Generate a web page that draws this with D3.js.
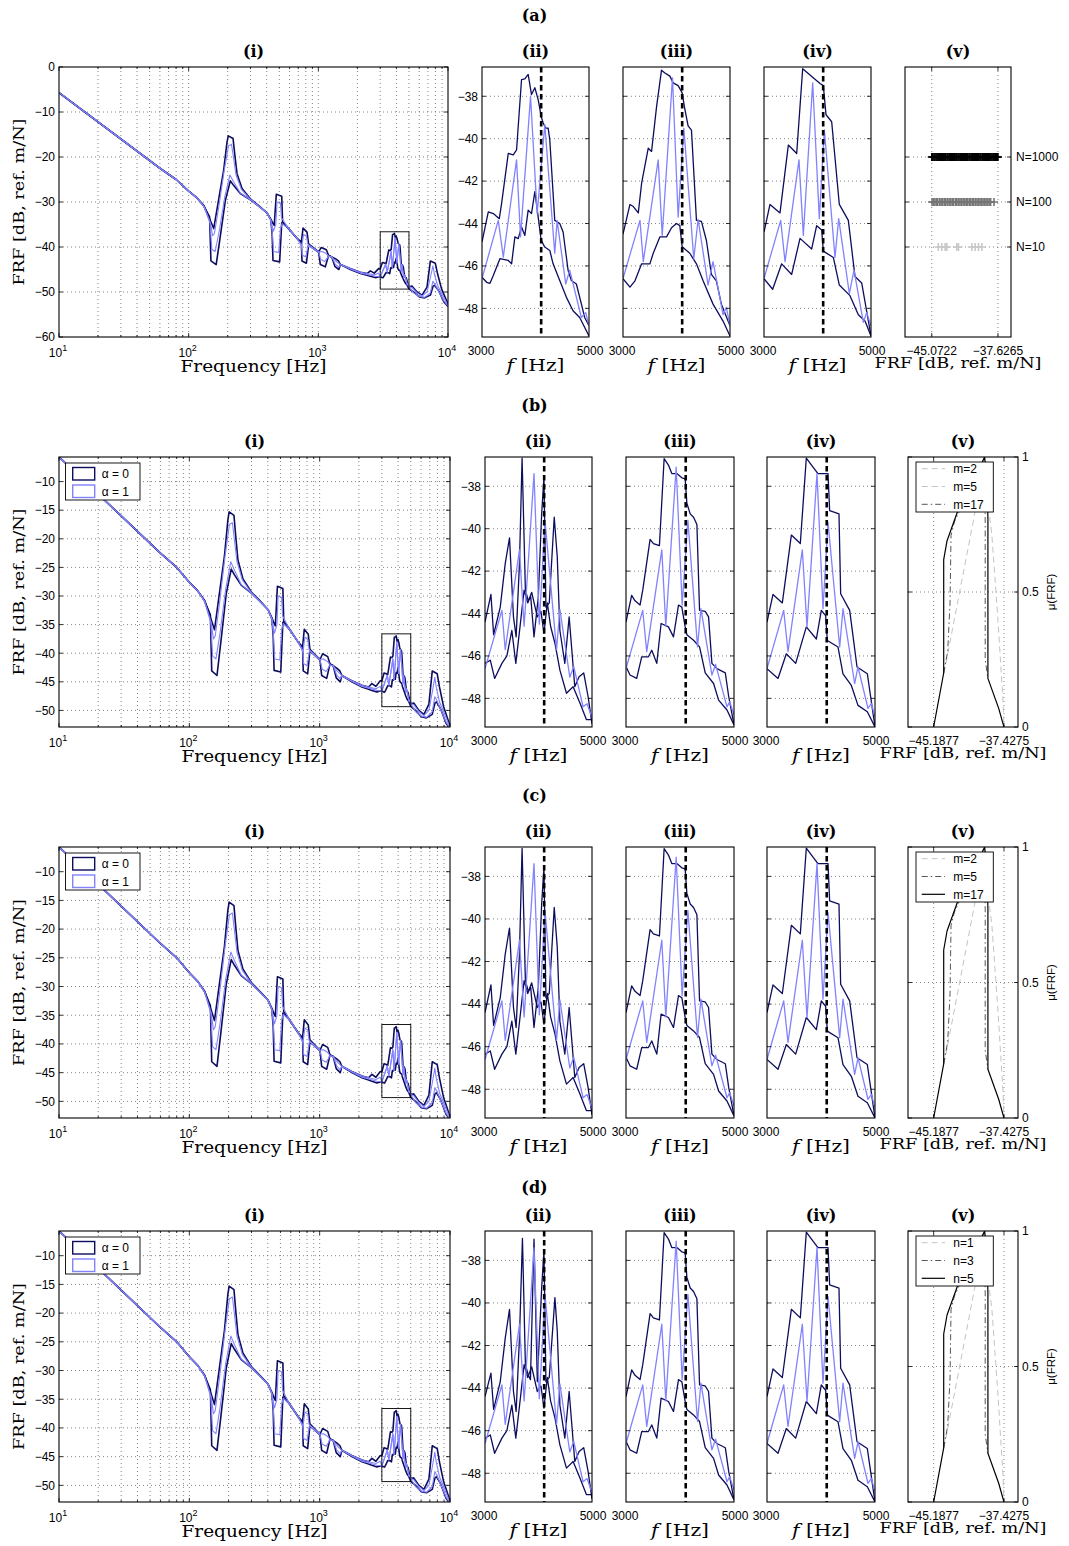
<!DOCTYPE html>
<html>
<head>
<meta charset="utf-8">
<script src="https://cdn.jsdelivr.net/npm/d3@7"></script>
<style>
  body { margin: 0; background: #fff; }
  svg { display: block; }
</style>
</head>
<body>
<script>
// ---------------------------------------------------------------
// Data
// ---------------------------------------------------------------
const freqTicks = [10, 100, 1000, 10000];
const frfTicksA = [0, -10, -20, -30, -40, -50, -60];
const frfTicksB = [-10, -15, -20, -25, -30, -35, -40, -45, -50];
const zoomYTicks = [-38, -40, -42, -44, -46, -48];
const zoomXTicks = [3000, 5000];
const zoomCursor = 4106;               // frequency marked by the dashed line
const boundsA = [-45.0722, -37.6265];  // interval bounds, row (a)
const boundsB = [-45.1877, -37.4275];  // interval bounds, rows (b)-(d)
const sampleLabels = ["N=10", "N=100", "N=1000"];
const muTicks = [0, 0.5, 1];
const alphaLabels = ["\u03b1 = 0", "\u03b1 = 1"];
const mLabels = ["m=2", "m=5", "m=17"];
const nLabels = ["n=1", "n=3", "n=5"];

// Full-band FRF envelopes [Hz, dB] below 3 kHz and above 5 kHz
const headU = [[10,-5.7],[30,-16.0],[60,-22.5],[80,-25.0],[100,-27.6],[116,-29.1],[131,-30.8],[147,-34.1],[156,-35.9],[170,-29.6],[186,-23.0],[197.6,-16.7],[202,-15.3],[220,-15.9],[226.5,-19.3],[236,-23.7],[258,-27.0],[299,-29.3],[350,-30.9],[402,-32.4],[430,-33.8],[447,-34.8],[457,-35.2],[474,-28.3],[522,-28.7],[530,-34.4],[580,-35.6],[686,-38.1],[740,-38.9],[762,-35.8],[818,-36.7],[841,-39.3],[1006,-41.1],[1054,-40.1],[1153,-40.6],[1200,-41.9],[1270,-42.2],[1352,-42.6],[1430,-43.1],[1480,-43.9],[1766,-44.8],[2109,-45.6],[2374,-45.9],[2518,-45.3],[2700,-45.8],[2917,-44.8]];
const headL = [[10,-5.7],[30,-16.0],[60,-22.5],[80,-25.0],[100,-27.6],[116,-29.1],[131,-30.9],[145,-33.3],[148.5,-43.1],[163,-43.9],[175,-37.8],[192,-29.6],[209.6,-25.3],[222,-26.3],[250,-28.1],[299,-29.5],[350,-31.0],[402,-32.4],[430,-34.0],[440,-37.0],[447,-43.0],[503,-43.3],[522,-34.6],[580,-35.7],[686,-38.1],[740,-39.3],[748,-43.1],[809,-43.6],[841,-39.6],[1006,-41.2],[1036,-43.9],[1132,-44.4],[1200,-41.9],[1270,-42.2],[1340,-44.3],[1440,-45.0],[1480,-43.9],[1766,-45.0],[2109,-45.9],[2374,-46.3],[2518,-46.5],[2750,-46.8]];
const tailU = [[5270,-48.7],[5770,-50.0],[6310,-50.7],[6890,-48.9],[7310,-43.1],[7980,-43.6],[8300,-45.9],[8920,-49.3],[10000,-52.7]];
const tailL = [[5430,-50.0],[6020,-51.1],[6600,-51.3],[7310,-50.7],[7670,-48.7],[7900,-48.5],[8500,-49.8],[9300,-52.2],[10000,-53.2]];
const head1U = [[10,-5.7],[30,-16.0],[60,-22.5],[80,-25.0],[100,-27.6],[116,-29.1],[131,-30.9],[147,-34.6],[153,-37.5],[158,-37.0],[172,-30.5],[188,-23.0],[203,-17.5],[214,-17.2],[220,-19.5],[232,-24.0],[255,-27.2],[299,-29.4],[402,-32.4],[430,-34.0],[450,-36.5],[470,-35.0],[480,-30.0],[510,-30.2],[520,-33.5],[580,-35.6],[686,-38.1],[745,-39.8],[770,-37.2],[810,-37.6],[830,-39.4],[1006,-41.1],[1070,-41.0],[1140,-41.4],[1200,-42.0],[1270,-42.2],[1360,-43.1],[1480,-43.9],[1766,-44.8],[2109,-45.6],[2374,-45.9],[2700,-46.2],[2917,-45.8]];
const head1L = [[10,-5.7],[30,-16.0],[60,-22.5],[80,-25.0],[100,-27.6],[116,-29.1],[131,-31.0],[146,-34.6],[151,-40.5],[160,-41.0],[172,-36.5],[190,-28.8],[208,-24.0],[222,-25.5],[250,-28.0],[299,-29.5],[402,-32.4],[430,-34.0],[442,-37.0],[452,-41.0],[495,-41.2],[510,-36.0],[525,-34.8],[580,-35.7],[686,-38.1],[740,-39.5],[752,-41.8],[800,-42.2],[835,-39.6],[1006,-41.2],[1045,-42.8],[1120,-43.2],[1200,-42.1],[1270,-42.2],[1350,-43.8],[1440,-44.5],[1480,-43.9],[1766,-44.9],[2109,-45.8],[2374,-46.1],[2750,-46.5]];
const tail1U = [[5270,-49.0],[5770,-50.2],[6310,-50.9],[6890,-50.0],[7350,-46.5],[7650,-44.2],[7850,-46.0],[8300,-48.5],[8920,-50.2],[10000,-53.0]];
const tail1L = [[5430,-50.2],[6020,-51.0],[6600,-51.2],[7310,-50.2],[7650,-47.6],[7900,-48.2],[8500,-49.9],[9300,-52.0],[10000,-53.1]];

// 3-5 kHz detail, row (a): upper/lower bounds (alpha = 0) and alpha = 1 curve
const a2U = [[3000,-44.87],[3118,-43.45],[3211,-43.53],[3323,-43.77],[3366,-43.06],[3491,-40.69],[3584,-40.76],[3646,-40.53],[3739,-37.21],[3801,-37.18],[3863,-36.97],[3925,-37.92],[3988,-37.6],[4050,-38.16],[4106,-38.95],[4143,-39.26],[4193,-39.5],[4236,-39.5],[4267,-40.05],[4360,-43.85],[4453,-44.0],[4516,-44.4],[4609,-46.2],[4671,-46.69],[4764,-46.85],[4857,-47.79],[4919,-48.43],[5000,-48.82]];
const a2L = [[3000,-46.53],[3087,-46.77],[3149,-46.82],[3211,-46.45],[3335,-45.66],[3491,-45.74],[3553,-45.9],[3615,-44.63],[3677,-44.71],[3739,-44.16],[3801,-44.56],[3863,-43.37],[3925,-43.53],[3988,-42.5],[4050,-43.69],[4106,-44.79],[4174,-45.11],[4267,-45.27],[4329,-45.9],[4453,-46.69],[4578,-47.48],[4702,-48.11],[4826,-48.43],[5000,-49.3]];
const a2M = [[3000,-46.6],[3304,-43.85],[3398,-45.58],[3646,-41.0],[3720,-44.63],[3907,-38.0],[4031,-43.53],[4174,-39.34],[4360,-45.4],[4404,-43.85],[4565,-46.85],[4640,-46.2],[4857,-48.43],[4938,-48.2],[5000,-48.82]];
const a3U = [[3000,-44.5],[3130,-43.1],[3193,-43.2],[3286,-43.5],[3348,-42.1],[3472,-40.45],[3534,-40.6],[3627,-38.5],[3720,-36.77],[3783,-36.9],[3876,-37.05],[3938,-37.37],[4031,-37.5],[4106,-37.84],[4155,-38.6],[4217,-39.4],[4280,-39.6],[4373,-43.85],[4466,-43.9],[4559,-44.8],[4652,-46.4],[4745,-46.7],[4839,-47.8],[4932,-48.4],[5000,-48.82]];
const a3L = [[3000,-46.6],[3130,-47.0],[3224,-46.7],[3348,-45.9],[3503,-45.9],[3565,-45.4],[3689,-44.63],[3814,-44.63],[3907,-44.2],[4000,-44.0],[4062,-44.1],[4106,-45.1],[4248,-45.4],[4373,-45.9],[4497,-46.7],[4683,-47.8],[4870,-48.6],[5000,-49.3]];
const a3M = [[3000,-46.6],[3317,-43.85],[3379,-45.8],[3658,-41.0],[3733,-44.56],[3925,-37.13],[4031,-43.7],[4137,-39.5],[4323,-45.66],[4404,-43.8],[4590,-46.9],[4683,-45.8],[4870,-48.3],[4932,-47.95],[5000,-48.82]];
const a4U = [[3000,-44.4],[3112,-43.1],[3299,-43.5],[3455,-40.3],[3611,-40.7],[3723,-36.7],[4047,-37.4],[4109,-37.5],[4159,-38.87],[4265,-39.2],[4408,-43.1],[4576,-43.85],[4701,-46.5],[4826,-46.8],[5000,-49.3]];
const a4L = [[3000,-46.6],[3162,-47.1],[3330,-45.9],[3517,-46.4],[3673,-44.7],[3891,-45.2],[3984,-44.1],[4078,-44.3],[4109,-45.3],[4296,-45.6],[4408,-46.9],[4607,-47.4],[4763,-48.3],[4888,-48.6],[5000,-49.3]];
const a4M = [[3000,-46.6],[3312,-43.85],[3393,-45.8],[3654,-41.0],[3735,-44.56],[3910,-37.37],[4034,-43.77],[4128,-39.58],[4327,-45.6],[4396,-43.77],[4595,-47.3],[4682,-46.2],[4857,-48.66],[4919,-48.2],[5000,-48.82]];

// 3-5 kHz detail, rows (b)-(d)
const b2U = [[3000,-44.4],[3111,-43.1],[3161,-45.0],[3285,-43.7],[3378,-41.65],[3458,-40.43],[3532,-44.16],[3582,-45.1],[3644,-41.65],[3693,-36.68],[3755,-42.9],[3811,-43.4],[3854,-43.2],[3916,-45.1],[3997,-43.2],[4059,-39.3],[4102,-37.58],[4139,-43.7],[4201,-43.5],[4294,-39.46],[4350,-41.3],[4400,-44.8],[4492,-46.35],[4573,-44.16],[4678,-47.45],[4759,-46.98],[4845,-46.8],[4926,-47.9],[5000,-49.2]];
const d2U = [[3000,-44.4],[3111,-43.3],[3161,-45.0],[3285,-43.7],[3378,-41.65],[3458,-40.3],[3532,-44.16],[3582,-45.1],[3644,-41.65],[3700,-36.97],[3755,-42.9],[3811,-43.4],[3850,-43.6],[3916,-37.0],[3978,-43.7],[4059,-39.3],[4102,-37.56],[4139,-43.7],[4201,-43.5],[4307,-39.75],[4350,-41.3],[4400,-44.8],[4492,-46.35],[4573,-44.16],[4678,-47.45],[4759,-46.98],[4845,-46.8],[4926,-47.9],[5000,-49.2]];
const b2L = [[3000,-46.35],[3099,-46.2],[3180,-47.06],[3316,-46.35],[3409,-46.0],[3502,-44.8],[3576,-46.35],[3669,-44.3],[3731,-42.9],[3799,-43.5],[3873,-43.0],[3978,-44.16],[4046,-43.9],[4102,-44.94],[4164,-43.5],[4226,-44.6],[4307,-45.4],[4400,-46.67],[4523,-47.76],[4647,-47.45],[4771,-48.2],[4895,-49.0],[5000,-49.0]];
const b2M = [[3000,-46.6],[3316,-43.85],[3378,-45.7],[3644,-41.0],[3731,-44.6],[3916,-37.4],[4015,-44.5],[4121,-39.6],[4337,-45.7],[4400,-43.8],[4585,-47.0],[4659,-46.5],[4833,-48.4],[4907,-48.25],[5000,-48.9]];
const b3U = [[3000,-44.4],[3105,-43.14],[3167,-43.4],[3260,-43.6],[3310,-42.9],[3446,-40.5],[3508,-40.7],[3619,-40.8],[3706,-36.7],[3786,-37.0],[3848,-37.4],[3941,-37.4],[4034,-37.6],[4096,-37.65],[4127,-38.8],[4189,-39.3],[4251,-39.46],[4313,-39.8],[4362,-43.85],[4467,-43.9],[4529,-44.16],[4591,-46.35],[4684,-46.6],[4839,-46.8],[4901,-47.9],[5000,-49.25]];
const b3L = [[3000,-46.5],[3074,-46.9],[3198,-47.06],[3291,-46.04],[3415,-46.04],[3477,-45.73],[3570,-46.35],[3650,-44.47],[3786,-44.63],[3879,-45.1],[3972,-43.6],[4034,-43.7],[4096,-44.63],[4127,-45.0],[4251,-45.26],[4362,-45.57],[4467,-46.8],[4622,-47.3],[4715,-48.08],[4870,-48.55],[5000,-49.25]];
const b3M = [[3000,-46.6],[3310,-43.85],[3384,-45.8],[3663,-41.0],[3737,-44.6],[3929,-37.1],[4040,-43.6],[4146,-39.6],[4325,-45.57],[4387,-43.77],[4591,-46.9],[4659,-46.4],[4870,-48.4],[4920,-48.16],[5000,-48.78]];
const b4U = [[3000,-44.4],[3111,-43.1],[3284,-43.5],[3451,-40.3],[3617,-40.7],[3728,-36.67],[3852,-37.1],[3944,-37.4],[4130,-37.4],[4160,-39.15],[4333,-39.3],[4364,-43.07],[4531,-43.85],[4667,-46.52],[4858,-46.84],[5000,-49.35]];
const b4L = [[3000,-46.6],[3204,-47.06],[3358,-45.9],[3531,-46.35],[3728,-44.63],[3914,-45.2],[4006,-43.85],[4086,-44.1],[4117,-45.27],[4315,-45.58],[4407,-46.84],[4562,-47.39],[4685,-48.33],[4858,-48.63],[5000,-49.35]];
const b4M = [[3000,-46.6],[3309,-43.85],[3389,-45.8],[3654,-41.0],[3741,-44.63],[3926,-37.4],[4037,-43.77],[4130,-39.7],[4346,-45.58],[4407,-43.77],[4623,-47.3],[4685,-46.52],[4870,-48.47],[4932,-48.24],[5000,-48.87]];

// Monte Carlo samples of the FRF at the marked frequency, row (a) (v)
const samples10 = [-44.33,-43.94,-43.57,-43.38,-42.25,-42.07,-40.56,-40.19,-39.81,-39.43];
const samples100 = [-45.04,-44.86,-44.71,-44.52,-44.40,-44.18,-44.02,-43.85,-43.66,-43.49,-43.30,-43.12,-42.95,-42.77,-42.63,-42.41,-42.26,-42.08,-41.90,-41.74,-41.55,-41.38,-41.20,-41.05,-40.86,-40.70,-40.51,-40.35,-40.16,-39.98,-39.82,-39.64,-39.47,-39.30,-39.13,-38.97,-38.80,-38.62,-38.45,-38.07];
const samples1000 = [-45.07,-44.96,-44.82,-44.71,-44.58,-44.47,-44.33,-44.22,-44.09,-43.98,-43.84,-43.73,-43.60,-43.49,-43.35,-43.24,-43.10,-42.99,-42.86,-42.74,-42.61,-42.50,-42.36,-42.25,-42.12,-42.00,-41.87,-41.76,-41.62,-41.51,-41.38,-41.26,-41.13,-41.02,-40.88,-40.77,-40.64,-40.52,-40.39,-40.28,-40.14,-40.03,-39.90,-39.78,-39.65,-39.54,-39.40,-39.29,-39.16,-39.04,-38.91,-38.80,-38.66,-38.55,-38.42,-38.30,-38.17,-38.06,-37.92,-37.81,-37.70,-37.63];

// Membership functions of the FRF at the marked frequency [dB, mu]
const memSolid = [[-45.19,0],[-44.08,0.2],[-44.08,0.62],[-43.71,0.69],[-42.53,0.8],[-41.05,0.89],[-39.57,1],[-39.28,0.91],[-39.2,0.77],[-39.2,0.18],[-38.02,0.07],[-37.43,0]];
const memDashDot = [[-44.08,0.2],[-43.64,0.28],[-43.38,0.46],[-43.27,0.71],[-42.9,0.76],[-41.05,0.89],[-39.57,1],[-39.5,0.77],[-39.5,0.25],[-39.2,0.18]];
const memDashed = [[-44.08,0.2],[-43.93,0.22],[-40.6,0.8],[-39.9,0.93],[-39.57,1],[-39.2,0.83],[-38.76,0.71],[-38.1,0.4],[-37.54,0.1],[-37.43,0]];

// ---------------------------------------------------------------
// Styles and layout
// ---------------------------------------------------------------
const SANS = "'Liberation Sans', Arial, Helvetica, sans-serif";
const SERIF = "'DejaVu Serif', 'Liberation Serif', serif";
const NAVY = "#0d0d5e";
const LIGHT = "#8282ff";
const GRID_COLOR = "#666";

const styleSolid = { stroke: "#000", dash: null, width: 1.2 };
const styleDashDot = { stroke: "#555", dash: "6,3,1.5,3", width: 1 };
const styleDashed = { stroke: "#c4c4c4", dash: "6,4", width: 1 };

const rows = [
  { key: "a", title: "(a)", titleY: 21, subY: 57, top: 67, h: 270, iX: [59, 448], iY: [-60, 0], zX: [[482, 589], [623, 730], [764, 871]], vX: [905, 1011] },
  { key: "b", title: "(b)", titleY: 411, subY: 447, top: 457, h: 270, iX: [59, 450], iY: [-52.9, -5.7], zX: [[485, 592], [626, 734], [767, 875]], vX: [908, 1018] },
  { key: "c", title: "(c)", titleY: 801, subY: 837, top: 847, h: 271, iX: [59, 450], iY: [-52.9, -5.7], zX: [[485, 592], [626, 734], [767, 875]], vX: [908, 1018] },
  { key: "d", title: "(d)", titleY: 1193, subY: 1221, top: 1231, h: 271, iX: [59, 450], iY: [-52.9, -5.7], zX: [[485, 592], [626, 734], [767, 875]], vX: [908, 1018] }
];

const zoomSeries = {
  a: [[a2U, a2L, a2M], [a3U, a3L, a3M], [a4U, a4L, a4M]],
  b: [[b2U, b2L, b2M], [b3U, b3L, b3M], [b4U, b4L, b4M]],
  c: [[b2U, b2L, b2M], [b3U, b3L, b3M], [b4U, b4L, b4M]],
  d: [[d2U, b2L, b2M], [b3U, b3L, b3M], [b4U, b4L, b4M]]
};
const memLegends = {
  b: { labels: mLabels, styles: [styleDashed, styleDashed, styleDashDot] },
  c: { labels: mLabels, styles: [styleDashed, styleDashDot, styleSolid] },
  d: { labels: nLabels, styles: [styleDashed, styleDashDot, styleSolid] }
};
const subTitles = ["(i)", "(ii)", "(iii)", "(iv)", "(v)"];

const svg = d3.select("body").append("svg")
  .attr("width", 1069).attr("height", 1546)
  .attr("font-family", SANS);

let clipCount = 0;
const minus = s => String(s).replace("-", "\u2212");

function frame(g, w, h) {
  g.append("rect").attr("width", w).attr("height", h)
    .attr("fill", "none").attr("stroke", "#000").attr("stroke-width", 1.1);
}
function clip(g, w, h) {
  const id = "clip" + (clipCount++);
  g.append("clipPath").attr("id", id).append("rect").attr("width", w).attr("height", h);
  return g.append("g").attr("clip-path", `url(#${id})`);
}
function vGrid(g, xs, h) {
  g.append("g").selectAll("line").data(xs).join("line")
    .attr("x1", d => d).attr("x2", d => d).attr("y1", 0).attr("y2", h)
    .attr("stroke", GRID_COLOR).attr("stroke-width", 0.8).attr("stroke-dasharray", "1,3");
}
function hGrid(g, ys, w) {
  g.append("g").selectAll("line").data(ys).join("line")
    .attr("y1", d => d).attr("y2", d => d).attr("x1", 0).attr("x2", w)
    .attr("stroke", GRID_COLOR).attr("stroke-width", 0.8).attr("stroke-dasharray", "1,3");
}
function xTickMarks(g, xs, h, len) {
  const t = g.append("g").attr("stroke", "#000").attr("stroke-width", 0.8);
  xs.forEach(px => {
    t.append("line").attr("x1", px).attr("x2", px).attr("y1", h).attr("y2", h - len);
    t.append("line").attr("x1", px).attr("x2", px).attr("y1", 0).attr("y2", len);
  });
}
function yTickMarks(g, ys, w, len) {
  const t = g.append("g").attr("stroke", "#000").attr("stroke-width", 0.8);
  ys.forEach(py => {
    t.append("line").attr("y1", py).attr("y2", py).attr("x1", 0).attr("x2", len);
    t.append("line").attr("y1", py).attr("y2", py).attr("x1", w).attr("x2", w - len);
  });
}
function serifLabel(g, x, y, parts, size, length, rotate) {
  const t = g.append("text")
    .attr("text-anchor", "middle")
    .attr("font-family", SERIF).attr("font-size", size)
    .attr("textLength", length).attr("lengthAdjust", "spacingAndGlyphs");
  if (rotate) t.attr("transform", `translate(${x},${y}) rotate(-90)`);
  else t.attr("x", x).attr("y", y);
  parts.forEach(p => {
    const s = t.append("tspan").text(p.text);
    if (p.italic) s.attr("font-style", "italic");
  });
  return t;
}
function drawPath(g, data, x, y, stroke, width, dash) {
  const line = d3.line().x(d => x(d[0])).y(d => y(d[1]));
  const p = g.append("path").datum(data).attr("d", line)
    .attr("fill", "none").attr("stroke", stroke).attr("stroke-width", width)
    .attr("stroke-linejoin", "round");
  if (dash) p.attr("stroke-dasharray", dash);
  return p;
}

// ---------------------------------------------------------------
// Panel (i): FRF over 10 Hz - 10 kHz
// ---------------------------------------------------------------
function panelFull(row) {
  const w = row.iX[1] - row.iX[0], h = row.h;
  const g = svg.append("g").attr("transform", `translate(${row.iX[0]},${row.top})`);
  const x = d3.scaleLog().domain([10, 1e4]).range([0, w]);
  const y = d3.scaleLinear().domain(row.iY).range([h, 0]);
  const yTicks = row.key === "a" ? frfTicksA : frfTicksB;

  const minor = [];
  freqTicks.slice(0, 3).forEach(d => { for (let k = 2; k <= 9; k++) minor.push(d * k); });
  const inner = v => v > 0.5 && v < h - 0.5;
  vGrid(g, minor.concat([100, 1000]).map(x), h);
  hGrid(g, yTicks.map(y).filter(inner), w);

  const c = clip(g, w, h);
  const upper0 = headU.concat(a2U, tailU);
  const lower0 = headL.concat(a2L, tailL);
  const upper1 = head1U.concat(a2M, tail1U);
  const lower1 = head1L.concat(a2M, tail1L);
  drawPath(c, upper0, x, y, NAVY, 1.6);
  drawPath(c, lower0, x, y, NAVY, 1.6);
  drawPath(c, upper1, x, y, LIGHT, 1.1);
  drawPath(c, lower1, x, y, LIGHT, 1.1);

  // 3-5 kHz window shown in the detail panels
  const zoomDb = [-49.35, -36.62];
  g.append("rect")
    .attr("x", x(zoomXTicks[0])).attr("width", x(zoomXTicks[1]) - x(zoomXTicks[0]))
    .attr("y", y(zoomDb[1])).attr("height", y(zoomDb[0]) - y(zoomDb[1]))
    .attr("fill", "none").attr("stroke", "#000").attr("stroke-width", 0.9);

  xTickMarks(g, freqTicks.map(x), h, 4);
  xTickMarks(g, minor.map(x), h, 2);
  yTickMarks(g, yTicks.map(y), w, 4);
  frame(g, w, h);

  // tick labels
  freqTicks.forEach(f => {
    const t = g.append("text").attr("x", x(f) - 1).attr("y", h + 20)
      .attr("text-anchor", "middle").attr("font-size", 12);
    t.append("tspan").text("10");
    t.append("tspan").attr("dy", -6).attr("font-size", 9).text(Math.round(Math.log10(f)));
  });
  yTicks.forEach(v => {
    g.append("text").attr("x", -4).attr("y", y(v) + 4.3)
      .attr("text-anchor", "end").attr("font-size", 12).text(minus(v));
  });

  serifLabel(g, w / 2, h + 35, [{ text: "Frequency [Hz]" }], 16.5, 146);
  serifLabel(g, -35, h / 2, [{ text: "FRF [dB, ref. m/N]" }], 15, 167, true);

  if (row.key !== "a") {
    const lg = g.append("g").attr("transform", "translate(6.5,6)");
    lg.append("rect").attr("width", 74.5).attr("height", 37)
      .attr("fill", "#fff").attr("stroke", "#000").attr("stroke-width", 0.9);
    [NAVY, LIGHT].forEach((col, i) => {
      lg.append("rect").attr("x", 7.2).attr("y", 4.5 + i * 17.5).attr("width", 22).attr("height", 12.5)
        .attr("fill", "none").attr("stroke", col).attr("stroke-width", 1.4);
      lg.append("text").attr("x", 36.2).attr("y", 15.3 + i * 17.5)
        .attr("font-size", 12).text(alphaLabels[i]);
    });
  }
}

// ---------------------------------------------------------------
// Panels (ii)-(iv): 3-5 kHz detail
// ---------------------------------------------------------------
function panelZoom(row, j) {
  const [x0, x1] = row.zX[j];
  const w = x1 - x0, h = row.h;
  const g = svg.append("g").attr("transform", `translate(${x0},${row.top})`);
  const x = d3.scaleLinear().domain(zoomXTicks).range([0, w]);
  const y = d3.scaleLinear().domain([-49.35, -36.62]).range([h, 0]);
  const [up, lo, mid] = zoomSeries[row.key][j];

  hGrid(g, zoomYTicks.map(y), w);
  const c = clip(g, w, h);
  drawPath(c, up, x, y, NAVY, 1.3);
  drawPath(c, lo, x, y, NAVY, 1.3);
  drawPath(c, mid, x, y, LIGHT, 1.3);
  c.append("line").attr("x1", x(zoomCursor)).attr("x2", x(zoomCursor))
    .attr("y1", 0).attr("y2", h)
    .attr("stroke", "#000").attr("stroke-width", 2.6).attr("stroke-dasharray", "5.5,3.5");

  yTickMarks(g, zoomYTicks.map(y), w, 4);
  frame(g, w, h);

  zoomXTicks.forEach((v, i) => {
    g.append("text").attr("x", x(v) + (i === 0 ? -1 : 1)).attr("y", h + 18)
      .attr("text-anchor", "middle").attr("font-size", 12).text(v);
  });
  if (j === 0) {
    zoomYTicks.forEach(v => {
      g.append("text").attr("x", -4).attr("y", y(v) + 4.3)
        .attr("text-anchor", "end").attr("font-size", 12).text(minus(v));
    });
  }
  serifLabel(g, w / 2, h + 34, [{ text: "f", italic: true }, { text: "  [Hz]" }], 16.5, 58);
}

// ---------------------------------------------------------------
// Panel (v), row (a): sampled FRF values
// ---------------------------------------------------------------
function panelSamples(row) {
  const [x0, x1] = row.vX;
  const w = x1 - x0, h = row.h;
  const g = svg.append("g").attr("transform", `translate(${x0},${row.top})`);
  const x = d3.scaleLinear().domain([-48.08, -36.16]).range([0, w]);
  const y = d3.scaleLinear().domain([-1, 5]).range([h, 0]);
  const levels = [1, 2, 3];

  vGrid(g, boundsA.map(x), h);
  hGrid(g, levels.map(y), w);

  const sets = [
    { data: samples10, color: "#c8c8c8", level: 1 },
    { data: samples100, color: "#767676", level: 2 },
    { data: samples1000, color: "#000", level: 3 }
  ];
  const s = 4;
  sets.forEach(set => {
    g.append("g").selectAll("path").data(set.data).join("path")
      .attr("d", d => `M${x(d) - s},${y(set.level)}h${2 * s}M${x(d)},${y(set.level) - s}v${2 * s}`)
      .attr("stroke", set.color).attr("stroke-width", 1.6).attr("fill", "none");
  });

  xTickMarks(g, boundsA.map(x), h, 4);
  yTickMarks(g, levels.map(y), w, 4);
  frame(g, w, h);

  boundsA.forEach(v => {
    g.append("text").attr("x", x(v)).attr("y", h + 18)
      .attr("text-anchor", "middle").attr("font-size", 12).text(minus(v));
  });
  levels.forEach((l, i) => {
    g.append("text").attr("x", w + 5).attr("y", y(l) + 4.3)
      .attr("font-size", 12).text(sampleLabels[i]);
  });
  serifLabel(g, w / 2, h + 31, [{ text: "FRF [dB, ref. m/N]" }], 14, 167);
}

// ---------------------------------------------------------------
// Panel (v), rows (b)-(d): membership functions
// ---------------------------------------------------------------
function panelMembership(row) {
  const [x0, x1] = row.vX;
  const w = x1 - x0, h = row.h;
  const g = svg.append("g").attr("transform", `translate(${x0},${row.top})`);
  const x = d3.scaleLinear().domain([-48.02, -35.88]).range([0, w]);
  const y = d3.scaleLinear().domain([0, 1]).range([h, 0]);

  vGrid(g, boundsB.map(x), h);
  hGrid(g, [y(0.5)], w);

  const c = clip(g, w, h);
  [[memDashed, styleDashed], [memDashDot, styleDashDot], [memSolid, styleSolid]].forEach(([d, st]) =>
    drawPath(c, d, x, y, st.stroke, st.width, st.dash));

  xTickMarks(g, boundsB.map(x), h, 4);
  yTickMarks(g, muTicks.map(y), w, 4);
  frame(g, w, h);

  boundsB.forEach(v => {
    g.append("text").attr("x", x(v)).attr("y", h + 18)
      .attr("text-anchor", "middle").attr("font-size", 12).text(minus(v));
  });
  muTicks.forEach(v => {
    g.append("text").attr("x", w + 4).attr("y", y(v) + 4.3)
      .attr("font-size", 12).text(v);
  });
  g.append("text").attr("transform", `translate(${w + 37},${h / 2}) rotate(-90)`)
    .attr("text-anchor", "middle").attr("font-size", 11.5).text("\u03bc(FRF)");
  serifLabel(g, w / 2, h + 31, [{ text: "FRF [dB, ref. m/N]" }], 14, 167);

  const leg = memLegends[row.key];
  const lg = g.append("g").attr("transform", "translate(8,5)");
  lg.append("rect").attr("width", 77.3).attr("height", 50)
    .attr("fill", "#fff").attr("stroke", "#000").attr("stroke-width", 0.9);
  leg.labels.forEach((lab, i) => {
    const st = leg.styles[i];
    const ly = 6.7 + i * 17.8;
    const ln = lg.append("line").attr("x1", 5.7).attr("x2", 29).attr("y1", ly).attr("y2", ly)
      .attr("stroke", st.stroke).attr("stroke-width", st.width);
    if (st.dash) ln.attr("stroke-dasharray", st.dash);
    lg.append("text").attr("x", 37.3).attr("y", ly + 4.3).attr("font-size", 12).text(lab);
  });
}

// ---------------------------------------------------------------
// Assemble the figure
// ---------------------------------------------------------------
rows.forEach(row => {
  svg.append("text").attr("x", 534.5).attr("y", row.titleY)
    .attr("text-anchor", "middle").attr("font-family", SERIF)
    .attr("font-weight", "bold").attr("font-size", 16).text(row.title);

  const centers = [(row.iX[0] + row.iX[1]) / 2]
    .concat(row.zX.map(p => (p[0] + p[1]) / 2), [(row.vX[0] + row.vX[1]) / 2]);
  centers.forEach((cx, i) => {
    svg.append("text").attr("x", cx).attr("y", row.subY)
      .attr("text-anchor", "middle").attr("font-family", SERIF)
      .attr("font-weight", "bold").attr("font-size", 16).text(subTitles[i]);
  });

  panelFull(row);
  [0, 1, 2].forEach(j => panelZoom(row, j));
  if (row.key === "a") panelSamples(row);
  else panelMembership(row);
});
</script>
</body>
</html>
